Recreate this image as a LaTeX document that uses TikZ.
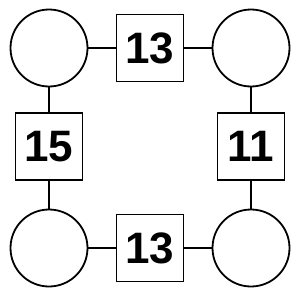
\documentclass[tikz,border=0pt]{standalone}
\usepackage{fontspec}
\setmainfont{Liberation Sans}
\begin{document}
\begin{tikzpicture}[x=1pt,y=-1pt,
  circ/.style={circle,draw=black,line width=1.8pt,minimum size=77pt,inner sep=0pt},
  sq/.style={rectangle,draw=black,line width=1.8pt,minimum size=67pt,inner sep=0pt,font=\fontsize{44}{44}\selectfont\bfseries},
  conn/.style={draw=black,line width=1.8pt}]
\useasboundingbox (0,0) rectangle (300,300);
\node[circ] (c1) at (49,48) {};
\node[circ] (c2) at (251,48) {};
\node[circ] (c3) at (49,248) {};
\node[circ] (c4) at (251,248) {};
\node[sq] (s1) at (150,48) {13};
\node[sq] (s2) at (49,146.5) {15};
\node[sq] (s3) at (251,146.5) {11};
\node[sq] (s4) at (150,248) {13};
\draw[conn] (c1) -- (s1);
\draw[conn] (s1) -- (c2);
\draw[conn] (c1) -- (s2);
\draw[conn] (s2) -- (c3);
\draw[conn] (c2) -- (s3);
\draw[conn] (s3) -- (c4);
\draw[conn] (c3) -- (s4);
\draw[conn] (s4) -- (c4);
\end{tikzpicture}
\end{document}
